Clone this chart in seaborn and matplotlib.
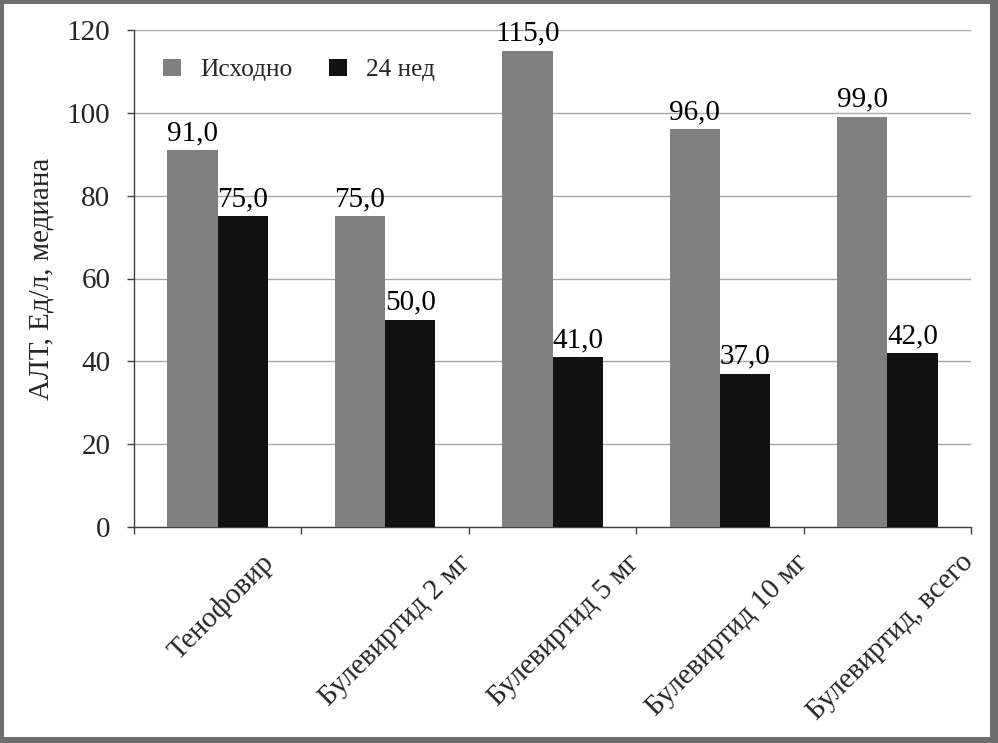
import matplotlib
matplotlib.use("Agg")
import matplotlib.pyplot as plt
import matplotlib.transforms as mtransforms
import seaborn as sns
import pandas as pd
from matplotlib.patches import Rectangle
from matplotlib.ticker import FixedLocator

categories = ["Тенофовир", "Булевиртид 2 мг", "Булевиртид 5 мг", "Булевиртид 10 мг", "Булевиртид, всего"]
baseline = [91.0, 75.0, 115.0, 96.0, 99.0]
week24 = [75.0, 50.0, 41.0, 37.0, 42.0]
series_names = ["Исходно", "24 нед"]
yticks = [0, 20, 40, 60, 80, 100, 120]

df = pd.DataFrame({
    "cat": categories * 2,
    "val": baseline + week24,
    "series": [series_names[0]] * len(categories) + [series_names[1]] * len(categories),
})

sns.set_theme(style="white")
plt.rcParams["font.family"] = ["Liberation Serif", "DejaVu Serif"]
FS = 21

fig = plt.figure(figsize=(9.98, 7.43), dpi=100)
# frame
fig.patches.append(Rectangle((0, 0), 1, 1, transform=fig.transFigure, facecolor="#6e6e6e", edgecolor="none", zorder=-2))
fig.patches.append(Rectangle((4/998, 6/743), (998-12)/998, (743-10)/743, transform=fig.transFigure,
                             facecolor="white", edgecolor="none", zorder=-1))

ax = fig.add_axes([134/998, 1-527/743, (971-134)/998, (527-30)/743])
ax.set_facecolor("none")
sns.barplot(data=df, x="cat", y="val", hue="series", palette=["#808080", "#111111"],
            width=0.6, saturation=1, ax=ax, legend=True, zorder=3, linewidth=0, edgecolor="none")

for bar_container in ax.containers:
    labels = [f"{v:.1f}".replace(".", ",") for v in bar_container.datavalues]
    ax.bar_label(bar_container, labels=labels, fontsize=FS, padding=3, color="black")

ax.set_ylim(0, 120)
ax.set_xlim(-0.5, len(categories) - 0.5)
ax.set_yticks(yticks)
ax.set_yticklabels([str(t) for t in yticks], fontsize=FS)
ax.yaxis.grid(True, color="#a8a8a8", linewidth=1)
ax.set_axisbelow(True)
ax.tick_params(axis="y", which="major", left=True, length=5, width=1, color="#404040", pad=12)

ax.set_xticks(range(len(categories)))
ax.set_xticklabels(categories, fontsize=FS, rotation=45, ha="right", rotation_mode="anchor")
ax.tick_params(axis="x", which="major", bottom=False, length=0, pad=16)
ax.xaxis.set_minor_locator(FixedLocator([i - 0.5 for i in range(len(categories) + 1)]))
ax.tick_params(axis="x", which="minor", bottom=True, length=5, width=1, color="#404040")

label_shift_px = [42, 72, 74, 75, 73]
for lbl, dx in zip(ax.get_xticklabels(), label_shift_px):
    lbl.set_transform(lbl.get_transform() + mtransforms.ScaledTranslation(dx / 100, 0, fig.dpi_scale_trans))

for s in ["top", "right"]:
    ax.spines[s].set_visible(False)
for s in ["left", "bottom"]:
    ax.spines[s].set_color("#404040")
    ax.spines[s].set_linewidth(1)

ax.set_xlabel("")
ax.set_ylabel("АЛТ, Ед/л, медиана", fontsize=FS, labelpad=9)

leg = ax.legend(loc="center left", bbox_to_anchor=((163-134)/837, (527-70)/497), ncol=2, frameon=False,
                fontsize=18.3, borderpad=0, borderaxespad=0,
                handlelength=0.7, handleheight=0.7, columnspacing=1.45, handletextpad=0.75)

fig.savefig("out.png", dpi=100)
